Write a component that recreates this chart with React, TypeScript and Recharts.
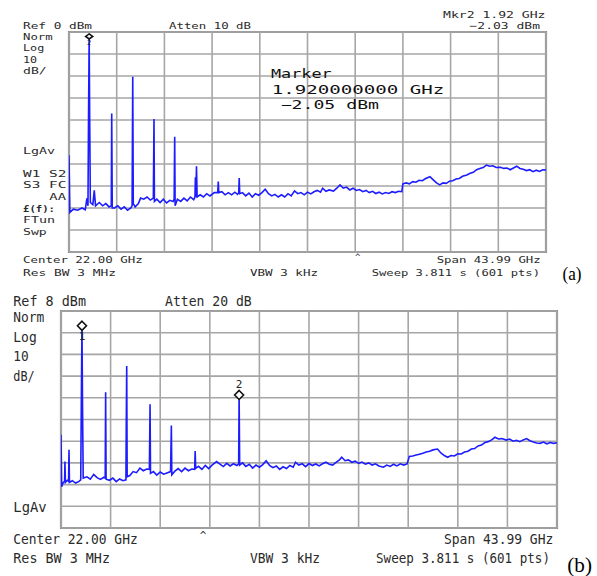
import React from 'react';
import { LineChart, Line, XAxis, YAxis, ReferenceLine, ReferenceDot, ReferenceArea } from 'recharts';

type P = [number, number];

// ---------- panel (a) : Ref 0 dBm, 10 dB/div ----------
const floorA: P[] = [
  [0.08, -82], [0.4, -80.5], [0.8, -81], [1.2, -80], [1.5, -80.8], [1.65, -75.6], [1.75, -79],
  [2.2, -78.5], [2.33, -72], [2.45, -79], [2.8, -77.5], [3.1, -79], [3.4, -78], [3.7, -79.5],
  [4.2, -80], [4.5, -79], [4.8, -80.5], [5.1, -79.5], [5.4, -81], [5.7, -80],
  [6.1, -79.5], [6.4, -78], [6.6, -75.5], [6.9, -76], [7.2, -75], [7.5, -76.4],
  [8.1, -76], [8.4, -77.5], [8.7, -76], [9.0, -77.7], [9.3, -76.5], [9.6, -77],
  [10.0, -76], [10.3, -77], [10.6, -75.5], [10.9, -76.8], [11.2, -75], [11.5, -76.2],
  [12.1, -74], [12.4, -75], [12.7, -73.5], [13.0, -74.5], [13.4, -73],
  [14.1, -72.6], [14.4, -74], [14.7, -73], [15.0, -74], [15.3, -72.8], [15.55, -73.8],
  [16.0, -73], [16.3, -74.5], [16.6, -73.2], [16.9, -75], [17.2, -73.5], [17.5, -74.2], [17.8, -73],
  [18.1, -71.5], [18.4, -73.5], [18.7, -74.5], [19.0, -73.8], [19.3, -75], [19.6, -74], [19.9, -75],
  [20.2, -73.5], [20.5, -74.5], [20.8, -72.2], [21.1, -73.5], [21.4, -73], [21.7, -74], [22.0, -72.8],
  [22.3, -73.6], [22.6, -72.6], [22.9, -72], [23.2, -72.8], [23.4, -71], [23.7, -72.4], [24.0, -71.8],
  [24.4, -72.3], [24.7, -71], [25.0, -69.5], [25.3, -71], [25.6, -70.5], [25.9, -71.8], [26.2, -71],
  [26.5, -72], [26.8, -71.6], [27.1, -72.6], [27.4, -72], [27.7, -73], [28.0, -72.4], [28.3, -73.4],
  [28.6, -72.8], [28.9, -73.6], [29.2, -73], [29.5, -73.4], [29.8, -72.6], [30.1, -73], [30.4, -72.4],
  [30.7, -72.6], [30.8, -69], [31.1, -68.6], [31.4, -69], [31.7, -68], [32.0, -68.3], [32.3, -67.4],
  [32.6, -67.6], [32.9, -66.6], [33.3, -65.8], [33.6, -67.2], [33.9, -68.6], [34.2, -69.5], [34.5, -68.6],
  [34.8, -68.8], [35.1, -67.8], [35.4, -67.6], [35.7, -66.8], [36.0, -66.6], [36.3, -65.6], [36.7, -65],
  [37.0, -64.2], [37.3, -63.8], [37.6, -62.6], [37.9, -62], [38.2, -61.6], [38.5, -60.5], [38.8, -61],
  [39.1, -60.8], [39.4, -61.6], [39.8, -61.5], [40.1, -62], [40.4, -61.8], [40.7, -62.6], [41.0, -61.8],
  [41.3, -61], [41.6, -62], [41.9, -62.4], [42.2, -63], [42.5, -62.6], [42.8, -63.5], [43.1, -62.8],
  [43.4, -63.4], [43.7, -62.6], [44.0, -62.7],
];
const spikesA: P[] = [
  [0, -56],
  [1.8, -40], [1.86, -2.03], [1.91, -40], [1.97, -77.5],
  [3.9, -79], [3.94, -37], [3.99, -80],
  [5.82, -79], [5.85, -50], [5.88, -20.3], [5.93, -78],
  [7.78, -75.5], [7.81, -58], [7.84, -39.5], [7.88, -77],
  [9.7, -76], [9.72, -63.5], [9.75, -47.6], [9.79, -79],
  [11.62, -75], [11.66, -66], [11.7, -75], [11.76, -61], [11.82, -75],
  [13.72, -73], [13.77, -68], [13.82, -73],
  [15.66, -73], [15.7, -66.4], [15.75, -73.5],
];
const markersA = [{ f: 1.86, v: -2.03, label: '2', below: true }];

// ---------- panel (b) : Ref 8 dBm, 10 dB/div ----------
const floorB: P[] = [
  [0.06, -73], [0.2, -71], [0.32, -70.5], [0.55, -70], [0.67, -70.5], [1.0, -70.2], [1.3, -71.3],
  [1.6, -70.5], [1.75, -69.8],
  [2.3, -68.4], [2.6, -69.5], [2.9, -67.3], [3.2, -68.8], [3.5, -69.6], [3.8, -68.6],
  [4.3, -70], [4.6, -69], [4.9, -70.6], [5.2, -69.4], [5.5, -70.2],
  [6.1, -67.8], [6.4, -66], [6.7, -66.5], [7.0, -64.4], [7.3, -65.6], [7.6, -64.8],
  [8.2, -66], [8.5, -67.6], [8.8, -66.2], [9.1, -67.2], [9.4, -66.6],
  [10.1, -65.8], [10.4, -64.6], [10.7, -66], [11.0, -64.4], [11.3, -65.6], [11.6, -64.8],
  [12.2, -63.6], [12.5, -65], [12.8, -63.2], [13.1, -64.6], [13.4, -63], [13.8, -61.4], [14.1, -62.6],
  [14.4, -63.7], [14.7, -62.2], [15.0, -63.4], [15.3, -62.4], [15.6, -63.2],
  [16.1, -62], [16.4, -63.6], [16.7, -62.6], [17.0, -64.4], [17.3, -63], [17.6, -64], [17.9, -62.8],
  [18.2, -61], [18.5, -63.2], [18.8, -64.2], [19.1, -63.4], [19.4, -65], [19.7, -63.8], [20.0, -64.6],
  [20.3, -63.2], [20.6, -64], [20.8, -61.7], [21.1, -63], [21.4, -62.4], [21.7, -63.7], [22.0, -62.3],
  [22.3, -63.2], [22.6, -62.5], [22.9, -63.4], [23.2, -62.4], [23.5, -61.7], [23.8, -62.6], [24.1, -63],
  [24.4, -61.8], [24.7, -60.6], [24.9, -59.4], [25.2, -61], [25.5, -60.6], [25.8, -61.7], [26.1, -61.2],
  [26.4, -62.2], [26.7, -61.6], [27.0, -62.6], [27.3, -62], [27.6, -63], [27.9, -62.4], [28.2, -63.4],
  [28.6, -64], [28.9, -63], [29.2, -63.6], [29.5, -62.6], [29.8, -63.4], [30.1, -62.4], [30.4, -63],
  [30.7, -62.5], [30.9, -59], [31.2, -58.8], [31.5, -58.4], [31.8, -58], [32.1, -57.6], [32.4, -57],
  [32.7, -56.6], [33.0, -56], [33.4, -55.6], [33.7, -57.4], [34.0, -58.6], [34.3, -59.4], [34.6, -58.6],
  [34.9, -58.8], [35.2, -57.8], [35.5, -57.9], [35.8, -57], [36.1, -56.6], [36.4, -55.6], [36.7, -55.4],
  [37.0, -54.2], [37.3, -53.8], [37.6, -52.6], [37.9, -52.2], [38.2, -51.4], [38.5, -50.2], [38.8, -51],
  [39.1, -50.8], [39.5, -51.5], [39.8, -51], [40.1, -52], [40.4, -51.6], [40.7, -52.2], [41.0, -51.4],
  [41.3, -50.8], [41.6, -51.8], [41.9, -52.4], [42.2, -52.8], [42.5, -53], [42.8, -52.4], [43.1, -53.2],
  [43.4, -52.6], [43.7, -53], [44.0, -52.7],
];
const spikesB: P[] = [
  [0, -49],
  [0.35, -61.4], [0.39, -71],
  [0.71, -56], [0.75, -71],
  [1.8, -36], [1.86, 1.2], [1.91, -36], [1.97, -69],
  [3.92, -69], [3.96, -29.5], [4.0, -69.5],
  [5.76, -69.8], [5.79, -43.7], [5.83, -17.3], [5.87, -68.4],
  [7.84, -65], [7.87, -50], [7.9, -35], [7.94, -66.8],
  [9.72, -66], [9.75, -56.8], [9.79, -44.8], [9.83, -67.5],
  [11.86, -65], [11.9, -56.5], [11.95, -64.5],
  [15.76, -62.5], [15.8, -30.7], [15.85, -63],
];
const markersB = [
  { f: 1.86, v: 1.2, label: '1', below: true },
  { f: 15.8, v: -30.7, label: '2', below: false },
];

const xTicks = [0, 4.4, 8.8, 13.2, 17.6, 22, 26.4, 30.8, 35.2, 39.6, 44];
const yTicksA = [-100, -90, -80, -70, -60, -50, -40, -30, -20, -10, 0];
const yTicksB = [-92, -82, -72, -62, -52, -42, -32, -22, -12, -2, 8];

const build = (a: P[], b: P[]) =>
  [...a, ...b].sort((p, q) => p[0] - q[0]).map(([f, v]) => ({ f, v }));

const dataA = build(floorA, spikesA);
const dataB = build(floorB, spikesB);

type Mk = { f: number; v: number; label: string; below: boolean };

const diamond = (m: Mk, hw: number, hh: number, fs: number, gap: number) => (props: any) => {
  const { cx, cy } = props;
  if (cx == null || cy == null) return <g />;
  return (
    <g>
      <polygon
        points={`${cx},${cy - hh} ${cx + hw},${cy} ${cx},${cy + hh} ${cx - hw},${cy}`}
        fill="#fff"
        stroke="#111"
        strokeWidth={1.6}
      />
      <text
        x={cx}
        y={m.below ? cy + hh + gap + fs * 0.7 : cy - hh - gap}
        textAnchor="middle"
        fontFamily="DejaVu Sans Mono"
        fontSize={fs}
        fill="#222"
      >
        {m.label}
      </text>
    </g>
  );
};

const GRID = '#a6a6a6';

function Panel(props: {
  left: number; top: number; width: number; height: number;
  data: { f: number; v: number }[]; yTicks: number[]; markers: Mk[];
  hw: number; hh: number; fs: number; gap: number;
}) {
  const { left, top, width, height, data, yTicks, markers, hw, hh, fs, gap } = props;
  const yMin = yTicks[0];
  const yMax = yTicks[yTicks.length - 1];
  return (
    <div style={{ position: 'absolute', left, top, width, height }}>
      <LineChart width={width} height={height} data={data} margin={{ top: 2, right: 2, bottom: 2, left: 2 }}>
        <XAxis type="number" dataKey="f" domain={[0, 44]} ticks={xTicks} interval={0} hide allowDataOverflow />
        <YAxis type="number" domain={[yMin, yMax]} ticks={yTicks} interval={0} hide allowDataOverflow />
        {xTicks.map((t) => (
          <ReferenceLine key={`vx${t}`} x={t} stroke={GRID} strokeWidth={1.6} />
        ))}
        {yTicks.map((t) => (
          <ReferenceLine key={`hy${t}`} y={t} stroke={GRID} strokeWidth={1.6} />
        ))}
        <ReferenceArea
          x1={0} x2={44} y1={yMin} y2={yMax}
          fill="none" fillOpacity={0} stroke="#8a8a8a" strokeWidth={2.2}
        />
        <Line
          type="linear"
          dataKey="v"
          stroke="#1c1cff"
          strokeWidth={1.6}
          dot={false}
          isAnimationActive={false}
        />
        {markers.map((m, i) => (
          <ReferenceDot key={i} x={m.f} y={m.v} r={4} shape={diamond(m, hw, hh, fs, gap)} />
        ))}
      </LineChart>
    </div>
  );
}

type Tx = { s: string; l: number; r: number; b: number; fs: number; fam?: string; bold?: boolean; fill?: string };

const MONO = 'DejaVu Sans Mono';
const textsA: Tx[] = [
  { s: 'Ref 0 dBm', l: 23, r: 92, b: 29, fs: 9.5 },
  { s: 'Atten 10 dB', l: 169, r: 251, b: 29, fs: 9.5 },
  { s: 'Mkr2  1.92 GHz', l: 443, r: 545.5, b: 17.5, fs: 9.5 },
  { s: '\u22122.03 dBm', l: 469.5, r: 540, b: 29, fs: 9.5 },
  { s: 'Norm', l: 23, r: 52.7, b: 40, fs: 9.5 },
  { s: 'Log', l: 23, r: 44.3, b: 51.3, fs: 9.5 },
  { s: '10', l: 23, r: 37, b: 62.5, fs: 9.5 },
  { s: 'dB/', l: 23, r: 46.7, b: 74.3, fs: 9.5 },
  { s: 'LgAv', l: 23, r: 55, b: 154, fs: 9.5 },
  { s: 'W1  S2', l: 23, r: 66.3, b: 176.5, fs: 9.5 },
  { s: 'S3  FC', l: 23, r: 66.3, b: 188, fs: 9.5 },
  { s: 'AA', l: 49.3, r: 66, b: 199.5, fs: 9.5 },
  { s: '\u00a3(f):', l: 23, r: 55, b: 211.5, fs: 9.5, bold: true },
  { s: 'FTun', l: 23, r: 55, b: 223.3, fs: 9.5 },
  { s: 'Swp', l: 23, r: 46.7, b: 235, fs: 9.5 },
  { s: 'Center 22.00 GHz', l: 23, r: 142.7, b: 263, fs: 9.5 },
  { s: 'Res BW 3 MHz', l: 23, r: 116, b: 275.5, fs: 9.5 },
  { s: 'VBW 3 kHz', l: 250, r: 318, b: 275.5, fs: 9.5 },
  { s: 'Span 43.99 GHz', l: 436.7, r: 540.7, b: 263, fs: 9.5 },
  { s: 'Sweep 3.811 s (601 pts)', l: 371.7, r: 540, b: 276, fs: 9.5 },
  { s: 'Marker', l: 271, r: 331.7, b: 77.7, fs: 12, fill: '#111' },
  { s: '1.920000000 GHz', l: 271.7, r: 444.3, b: 94.3, fs: 12, fill: '#111' },
  { s: '\u22122.05 dBm', l: 280.7, r: 379, b: 108.7, fs: 12, fill: '#111' },
  { s: '(a)', l: 562.5, r: 581.5, b: 280, fs: 18, fam: 'Liberation Serif', fill: '#000' },
];
const textsB: Tx[] = [
  { s: 'Ref 8 dBm', l: 13.3, r: 86, b: 305.7, fs: 14 },
  { s: 'Atten 20 dB', l: 165, r: 251.7, b: 305.7, fs: 14 },
  { s: 'Norm', l: 13.3, r: 44.3, b: 322.3, fs: 14 },
  { s: 'Log', l: 13.3, r: 36.7, b: 341.5, fs: 14 },
  { s: '10', l: 13.3, r: 28.7, b: 361, fs: 14 },
  { s: 'dB/', l: 13.3, r: 34.7, b: 380.7, fs: 14 },
  { s: 'LgAv', l: 13.3, r: 46.7, b: 512, fs: 14 },
  { s: 'Center 22.00 GHz', l: 13.3, r: 137.7, b: 544, fs: 14 },
  { s: 'Res BW 3 MHz', l: 13.3, r: 110, b: 563.3, fs: 14 },
  { s: 'VBW 3 kHz', l: 250, r: 320, b: 563, fs: 14 },
  { s: 'Span 43.99 GHz', l: 444, r: 553.3, b: 544, fs: 14 },
  { s: 'Sweep 3.811 s (601 pts)', l: 376, r: 550, b: 563.3, fs: 14 },
  { s: '(b)', l: 567.3, r: 592, b: 572, fs: 20, fam: 'Liberation Serif', fill: '#000' },
];

export default function App() {
  const all = [...textsA, ...textsB];
  return (
    <div style={{ position: 'absolute', left: 0, top: 0, width: 597, height: 576, background: '#fff', overflow: 'hidden' }}>
      <Panel left={67} top={30} width={481} height={224} data={dataA} yTicks={yTicksA} markers={markersA} hw={3.5} hh={2.5} fs={7} gap={1} />
      <Panel left={59} top={309} width={500} height={221} data={dataB} yTicks={yTicksB} markers={markersB} hw={4.5} hh={4.5} fs={11} gap={2} />
      <svg width={597} height={576} style={{ position: 'absolute', left: 0, top: 0, pointerEvents: 'none' }}>
        {all.map((t, i) => (
          <text
            key={i}
            x={t.l}
            y={t.b}
            fontFamily={t.fam ?? MONO}
            fontSize={t.fs}
            fontWeight={t.bold ? 'bold' : 'normal'}
            fill={t.fill ?? '#2a2a2a'}
            textLength={t.r - t.l}
            lengthAdjust="spacingAndGlyphs"
          >
            {t.s}
          </text>
        ))}
        <text x={357.7} y={260} textAnchor="middle" fontFamily={MONO} fontSize={9} fill="#333">^</text>
        <text x={203} y={539} textAnchor="middle" fontFamily={MONO} fontSize={11} fill="#333">^</text>
      </svg>
    </div>
  );
}
